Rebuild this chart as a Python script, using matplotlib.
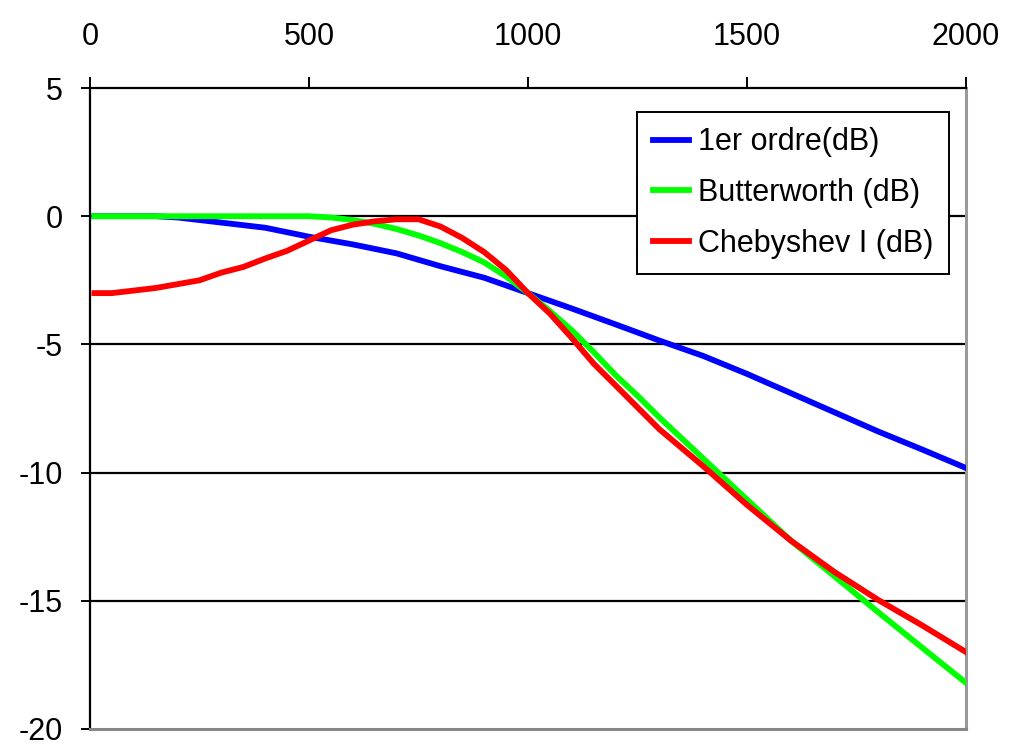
import matplotlib
matplotlib.use("Agg")
import matplotlib.pyplot as plt

plt.rcParams['font.family'] = ['Liberation Sans', 'DejaVu Sans']
plt.rcParams['axes.unicode_minus'] = False

# Data
freq_1er = [10, 100, 150, 200, 300, 400, 500, 600, 700, 800, 900, 1000, 1100, 1200,
            1300, 1400, 1500, 1600, 1700, 1800, 1900, 2000]
db_1er = [0, 0, 0, -0.05, -0.25, -0.45, -0.8, -1.1, -1.45, -1.95, -2.4, -3.0, -3.6, -4.22,
          -4.85, -5.45, -6.15, -6.9, -7.65, -8.4, -9.1, -9.82]

freq_butter = [10, 100, 200, 300, 400, 500, 550, 600, 650, 700, 750, 800, 850, 900, 950,
               1000, 1050, 1100, 1150, 1200, 1250, 1300, 1400, 1500, 1600, 1700, 1800, 1900, 2000]
db_butter = [0, 0, 0, 0, 0, 0, -0.05, -0.15, -0.3, -0.5, -0.75, -1.05, -1.4, -1.8, -2.35,
             -3.0, -3.7, -4.45, -5.3, -6.2, -7.0, -7.85, -9.45, -11.05, -12.65, -14.05, -15.45, -16.83, -18.2]

freq_cheb = [10, 50, 100, 150, 200, 250, 300, 350, 400, 450, 500, 550, 600, 650, 700, 750,
             800, 850, 900, 950, 1000, 1050, 1100, 1150, 1200, 1300, 1400, 1500, 1600, 1700,
             1800, 1900, 2000]
db_cheb = [-3.0, -3.0, -2.9, -2.8, -2.65, -2.5, -2.2, -1.98, -1.65, -1.35, -0.95, -0.55, -0.33,
           -0.2, -0.12, -0.12, -0.4, -0.85, -1.4, -2.1, -3.0, -3.8, -4.75, -5.75, -6.6, -8.31,
           -9.75, -11.26, -12.65, -13.88, -14.97, -15.96, -17.0]

labels = ['1er ordre(dB)', 'Butterworth (dB)', 'Chebyshev I (dB)']
colors = ['#0000FF', '#00FF00', '#FF0000']
x_ticks = [0, 500, 1000, 1500, 2000]
y_ticks = [5, 0, -5, -10, -15, -20]

fig = plt.figure(figsize=(10.22, 7.44), dpi=100)
ax = fig.add_axes([90/1022, 1 - 729/744, (966-90)/1022, (729-88)/744])

for yv in [0, -5, -10, -15]:
    ax.axhline(yv, color='black', lw=1.6, zorder=1)

ax.plot(freq_1er, db_1er, color=colors[0], lw=4.2, label=labels[0], zorder=3)
ax.plot(freq_butter, db_butter, color=colors[1], lw=4.2, label=labels[1], zorder=4)
ax.plot(freq_cheb, db_cheb, color=colors[2], lw=4.2, label=labels[2], zorder=5)

ax.set_xlim(0, 2000)
ax.set_ylim(-20, 5)
ax.set_xticks(x_ticks)
ax.set_yticks(y_ticks)
ax.xaxis.tick_top()
ax.tick_params(axis='x', direction='out', length=8, width=1.4, labelsize=22, pad=18)
ax.tick_params(axis='y', direction='out', length=6.5, width=1.4, labelsize=22, pad=13)

ax.spines['left'].set_color('black')
ax.spines['left'].set_linewidth(1.6)
ax.spines['top'].set_color('black')
ax.spines['top'].set_linewidth(1.6)
ax.spines['right'].set_color('#999999')
ax.spines['right'].set_linewidth(2.2)
ax.spines['bottom'].set_color('#888888')
ax.spines['bottom'].set_linewidth(2.2)

leg = ax.legend(loc='upper right', bbox_to_anchor=((949-90)/876, (729-112)/641),
                fontsize=22, frameon=True, fancybox=False, handlelength=1.2,
                handletextpad=0.3, borderpad=0.5, labelspacing=0.68, borderaxespad=0)
leg.get_frame().set_edgecolor('black')
leg.get_frame().set_linewidth(1.4)
leg.get_frame().set_alpha(1)

fig.savefig('out.png', dpi=100)
